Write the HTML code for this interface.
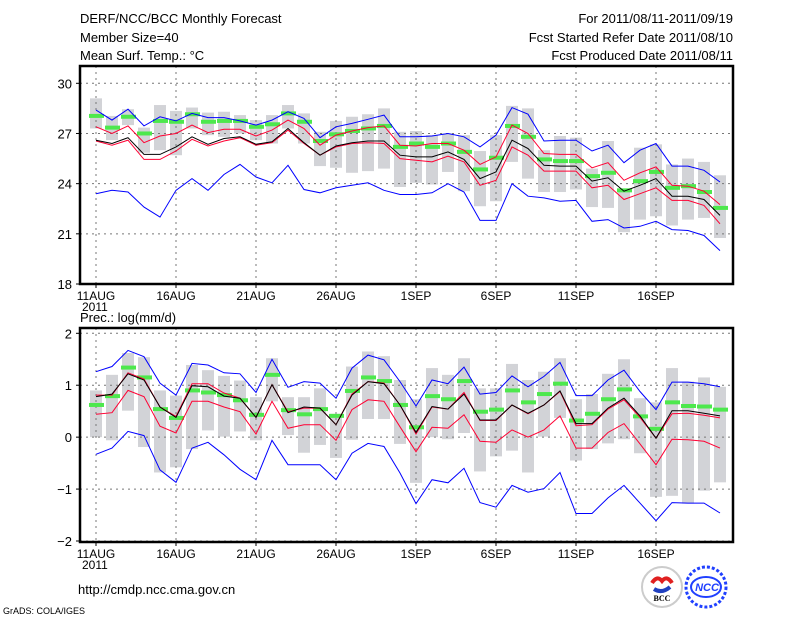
<!DOCTYPE html>
<html><head><meta charset="utf-8"><style>
body{margin:0;background:#fff;}
svg{display:block;font-family:"Liberation Sans",sans-serif;}
</style></head><body>
<svg id="chart" width="800" height="618" viewBox="0 0 800 618">
<g font-size="13" fill="#000">
<text x="80" y="23">DERF/NCC/BCC Monthly Forecast</text>
<text x="80" y="42">Member Size=40</text>
<text x="80" y="60">Mean Surf. Temp.: °C</text>
<text x="733" y="23" text-anchor="end">For 2011/08/11-2011/09/19</text>
<text x="733" y="42" text-anchor="end">Fcst Started Refer Date 2011/08/10</text>
<text x="733" y="60" text-anchor="end">Fcst Produced Date 2011/08/11</text>
<text x="80" y="322" font-size="13">Prec.: log(mm/d)</text>
<text x="78" y="594" font-size="13">http://cmdp.ncc.cma.gov.cn</text>
<text x="3" y="614" font-size="9">GrADS: COLA/IGES</text>
</g>
<g>
<circle cx="662" cy="587" r="20" fill="#fff" stroke="#ccc" stroke-width="2"/>
<path d="M652 583 q5 -8 10 -2 q5 -6 10 2" stroke="#e02020" stroke-width="4" fill="none"/>
<path d="M654 589 q8 5 16 -2" stroke="#2040c0" stroke-width="4" fill="none"/>
<text x="662" y="601" font-size="8" text-anchor="middle" font-family="Liberation Serif,serif" font-weight="bold">BCC</text>
</g>
<g>
<circle cx="706" cy="587" r="20" fill="none" stroke="#2040ff" stroke-width="3" stroke-dasharray="3 2"/>
<ellipse cx="706" cy="587" rx="15" ry="10" fill="none" stroke="#2040ff" stroke-width="2"/>
<text x="707" y="591" font-size="11" text-anchor="middle" fill="#2040ff" font-weight="bold" font-style="italic">NCC</text>
</g>
</svg>
<script>
const days = 40;
const xLabels = ["11AUG","16AUG","21AUG","26AUG","1SEP","6SEP","11SEP","16SEP"];
const tTicks = [18,21,24,27,30];
const pTicks = [-2,-1,0,1,2];
// temperature panel
const tBlueHi = [28.4,27.8,28.45,27.45,28.0,27.75,28.2,27.95,27.95,27.75,27.5,27.8,28.3,27.9,26.75,27.4,27.6,27.85,28.1,26.8,26.8,26.85,27.0,26.8,26.2,26.9,28.55,28.15,26.55,26.6,26.6,25.95,26.3,25.25,26.0,26.4,25.05,25.05,24.8,24.1];
const tBlueLo = [23.4,23.6,23.5,22.6,22.0,23.6,24.3,23.6,24.55,25.15,24.4,24.05,25.1,23.65,23.45,23.75,23.9,24.05,23.6,23.35,23.35,23.45,24.0,23.5,21.8,21.8,24.0,23.25,23.15,22.95,23.0,21.75,21.85,21.35,21.45,21.75,21.25,21.2,20.9,20.0];
const tRedHi = [27.4,27.0,27.45,26.45,26.85,27.0,27.5,27.05,27.25,27.25,26.85,27.2,27.8,27.3,26.3,26.9,27.15,27.35,27.45,26.3,26.25,26.4,26.4,26.0,25.15,25.6,27.5,27.0,25.8,25.75,25.75,24.95,25.25,24.2,24.65,25.0,23.9,23.85,23.55,22.75];
const tRedLo = [26.55,26.3,26.6,25.45,25.45,25.95,26.65,26.25,26.55,26.75,26.3,26.45,27.2,26.4,25.7,26.2,26.4,26.45,26.4,25.5,25.4,25.3,25.65,25.3,23.9,24.2,26.2,25.7,24.75,24.75,24.75,23.75,23.9,23.05,23.4,23.75,23.0,23.0,22.7,21.6];
const tMean = [26.6,26.4,26.75,25.75,25.75,26.2,26.8,26.35,26.7,26.8,26.35,26.5,27.3,26.45,25.7,26.25,26.45,26.55,26.55,25.7,25.6,25.6,25.9,25.45,24.3,24.7,26.6,26.1,25.1,25.05,25.05,24.15,24.35,23.55,23.9,24.3,23.25,23.25,23.05,22.1];
const tGreen = [28.05,27.35,28.0,27.0,27.75,27.7,28.15,27.7,27.75,27.75,27.4,27.55,28.2,27.7,26.55,26.95,27.15,27.3,27.45,26.2,26.4,26.2,26.4,25.9,24.85,25.55,27.45,26.8,25.45,25.35,25.35,24.45,24.65,23.6,24.15,24.7,23.75,23.85,23.5,22.55];
const tBoxHi = [29.1,28.05,28.45,27.35,28.7,28.35,28.55,28.25,28.3,28.1,27.8,28.1,28.7,28.2,27.1,27.75,28.0,28.15,28.5,27.1,27.15,26.9,27.0,26.9,25.95,26.9,28.65,28.5,26.0,26.85,26.75,24.9,26.55,23.7,26.15,26.35,25.15,25.5,25.3,24.5];
const tBoxLo = [27.3,26.6,27.5,25.85,26.0,25.7,27.3,26.9,26.8,27.0,26.6,26.4,27.3,26.4,25.05,24.95,24.65,24.75,24.9,23.8,24.05,23.95,24.7,23.55,22.65,22.95,25.3,24.3,23.5,23.5,23.65,22.6,22.55,21.1,21.85,22.05,21.5,21.85,21.95,20.75];
// precipitation panel
const pBlueHi = [1.26,1.36,1.67,1.55,1.04,0.81,1.42,1.39,1.24,1.22,0.86,1.5,0.96,1.07,1.04,0.75,1.33,1.58,1.49,1.07,0.6,1.1,1.03,1.35,0.83,0.86,1.18,0.97,1.17,1.44,0.8,0.8,1.1,1.29,0.88,0.53,1.06,1.06,1.03,0.97];
const pBlueLo = [-0.33,-0.21,0.11,0.03,-0.63,-0.87,-0.21,-0.1,-0.34,-0.62,-0.82,-0.06,-0.53,-0.53,-0.53,-0.82,-0.31,-0.12,-0.18,-0.69,-1.28,-0.82,-0.88,-0.6,-1.26,-1.35,-0.93,-1.06,-0.99,-0.68,-1.47,-1.47,-1.17,-0.93,-1.27,-1.61,-1.26,-1.27,-1.27,-1.46];
const pRedHi = [0.81,0.81,1.24,1.12,0.58,0.4,1.03,1.03,0.85,0.75,0.38,1.01,0.49,0.56,0.56,0.24,0.83,1.07,1.04,0.62,0.06,0.58,0.54,0.86,0.32,0.32,0.62,0.45,0.62,0.88,0.22,0.24,0.54,0.72,0.38,-0.02,0.45,0.46,0.42,0.37];
const pRedLo = [0.44,0.47,0.9,0.78,0.21,0.08,0.69,0.69,0.58,0.49,0.06,0.69,0.17,0.24,0.24,-0.06,0.53,0.72,0.69,0.2,-0.28,0.19,0.17,0.43,-0.08,-0.1,0.14,0.0,0.14,0.41,-0.21,-0.21,0.09,0.26,-0.13,-0.53,-0.04,-0.05,-0.08,-0.21];
const pMean = [0.78,0.83,1.22,1.1,0.58,0.38,0.99,0.97,0.79,0.75,0.38,1.01,0.47,0.58,0.56,0.24,0.81,1.07,1.03,0.62,0.09,0.59,0.54,0.83,0.33,0.33,0.62,0.46,0.62,0.89,0.26,0.26,0.56,0.75,0.41,-0.02,0.51,0.51,0.46,0.41];
const pGreen = [0.62,0.79,1.34,1.15,0.54,0.37,0.9,0.86,0.81,0.71,0.43,1.2,0.52,0.44,0.54,0.41,0.89,1.15,1.08,0.62,0.19,0.79,0.73,1.08,0.49,0.53,0.9,0.67,0.83,1.03,0.32,0.45,0.73,0.92,0.4,0.16,0.67,0.6,0.59,0.53];
const pBoxHi = [0.9,1.2,1.62,1.54,0.9,0.8,1.39,1.29,1.18,1.09,0.77,1.52,0.77,0.77,0.94,0.45,1.36,1.65,1.56,1.1,0.73,1.33,1.2,1.52,0.94,0.94,1.41,1.1,1.26,1.52,0.73,0.83,1.22,1.5,0.75,0.67,1.33,1.07,1.15,0.97];
const pBoxLo = [0.0,-0.06,0.51,-0.19,-0.68,-0.58,-0.23,0.13,0.01,0.11,-0.06,0.69,0.04,-0.3,-0.15,-0.4,-0.05,0.35,0.35,-0.13,-0.88,0.0,-0.04,0.08,-0.66,-0.37,-0.26,-0.68,0.01,0.37,-0.45,-0.23,-0.12,-0.04,-0.31,-1.15,-1.13,-1.28,-1.03,-0.87];

const NS = "http://www.w3.org/2000/svg";
const svg = document.getElementById('chart');
function mk(tag, attrs, parent){const e=document.createElementNS(NS,tag);for(const k in attrs)e.setAttribute(k,attrs[k]);(parent||svg).appendChild(e);return e;}
const L=80,R=733;
function xScale(i){return 96+16*i;}

function panel(name, top, bottom, vMin, vMax, y0, y1, ticks, series){
  const yScale=v=>y0+(v-vMin)*(y1-y0)/(vMax-vMin);
  const g=mk('g',{});
  
  
  // boxes
  for(let i=0;i<days;i++){
    const a=yScale(series.boxHi[i]), b=yScale(series.boxLo[i]);
    const r=mk('rect',{x:xScale(i)-6,y:a,width:12,height:b-a,fill:'#d2d3d7'},g);
    
    
  }
  // grid
  ticks.forEach(t=>{
    const y=yScale(t);
    const l=mk('line',{x1:L,x2:R,y1:y,y2:y,stroke:'#777','stroke-dasharray':'2 4','stroke-width':1},g);
    
    
    const tx=mk('text',{x:72,y:y+5,'text-anchor':'end','font-size':13},g);
    tx.textContent=(t<0?'\u2212'+(-t):t);
    
    
    mk('line',{x1:L-4,x2:L,y1:y,y2:y,stroke:'#000'},g);
  });
  xLabels.forEach((lab,k)=>{
    const x=xScale(k*5);
    const l=mk('line',{x1:x,x2:x,y1:top,y2:bottom,stroke:'#777','stroke-dasharray':'2 4','stroke-width':1},g);
    
    
    mk('line',{x1:x,x2:x,y1:bottom,y2:bottom+4,stroke:'#000'},g);
    const tx=mk('text',{x:x,y:bottom+16,'text-anchor':'middle','font-size':12},g);
    tx.textContent=lab;
    
    
  });
  const yr=mk('text',{x:82,y:bottom+27,'font-size':12},g);
  yr.textContent='2011';
  
  
  // green markers
  for(let i=0;i<days;i++){
    const r=mk('rect',{x:xScale(i)-7,y:yScale(series.green[i])-2,width:15,height:4,fill:'#4de84d'},g);
    
    
  }
  const lines=[['blueHi','#0000ff','upper-bound-line'],['blueLo','#0000ff','lower-bound-line'],['redHi','#ff0033','upper-quartile-line'],['redLo','#ff0033','lower-quartile-line'],['mean','#000','ensemble-mean-line']];
  lines.forEach(([k,c,n])=>{
    const pts=series[k].map((v,i)=>xScale(i)+','+yScale(v).toFixed(1)).join(' ');
    const p=mk('polyline',{points:pts,fill:'none',stroke:c,'stroke-width':1},g);
    
    
  });
  const f=mk('rect',{x:L,y:top,width:R-L,height:bottom-top,fill:'none',stroke:'#000','stroke-width':2.5},g);
  
  
}
panel('temperature-panel',66,284,18,30,284,83.3,tTicks,{boxHi:tBoxHi,boxLo:tBoxLo,green:tGreen,blueHi:tBlueHi,blueLo:tBlueLo,redHi:tRedHi,redLo:tRedLo,mean:tMean});
panel('precipitation-panel',328,542,-2,2,541,333.3,pTicks,{boxHi:pBoxHi,boxLo:pBoxLo,green:pGreen,blueHi:pBlueHi,blueLo:pBlueLo,redHi:pRedHi,redLo:pRedLo,mean:pMean});
</script>
</body></html>
